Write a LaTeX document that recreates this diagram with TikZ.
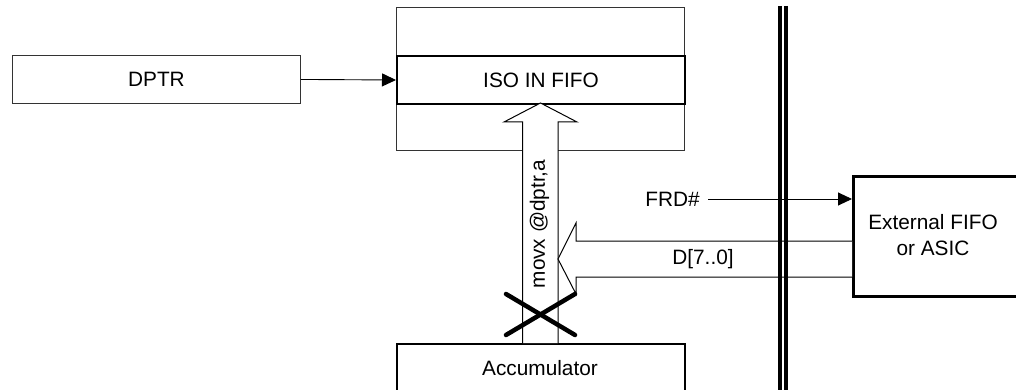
\documentclass[tikz,border=0pt]{standalone}
\usepackage{fontspec}
\setmainfont{Liberation Sans}
\usetikzlibrary{arrows.meta}
\begin{document}
\begin{tikzpicture}[x=1pt,y=-1pt,
  lbl/.style={font=\fontsize{20.8}{24}\selectfont, inner sep=0pt},
  thinbox/.style={draw=black!80, line width=0.9pt},
  conn/.style={draw, line width=0.9pt, -{Triangle[length=14pt,width=13pt]}},
  blockarrow/.style={draw, line width=1pt, fill=white, line join=miter},
  cross/.style={line width=4.5pt, line cap=round},
  bus/.style={line width=3.6pt}]
\clip (0,0) rectangle (1016,390);
\fill[white] (0,0) rectangle (1016,390);
% outer FIFO frame
\draw[thinbox] (396,7) rectangle (684,150);
% DPTR
\node[thinbox, minimum width=288pt, minimum height=48pt, anchor=north west, inner sep=0pt] (dptr) at (12,55) {};
\node[lbl] at (dptr.center) {DPTR};
% ISO IN FIFO
\node[draw, line width=2pt, minimum width=288pt, minimum height=48pt, anchor=north west, inner sep=0pt] (iso) at (396,55) {};
\node[lbl] at (iso.center) {ISO IN FIFO};
\draw[conn] (dptr.east) -- (iso.west);
% Accumulator
\node[draw, line width=1.6pt, minimum width=288pt, minimum height=70pt, anchor=north west, inner sep=0pt] (acc) at (396,343) {};
\node[lbl] at (540,368) {Accumulator};
% up block arrow
\draw[blockarrow] (522.5,343) -- (522.5,122) -- (504,122) -- (540.5,103) -- (577,122) -- (558,122) -- (558,343);
\node[lbl, rotate=90] (movx) at (539.5,224) {movx @dptr,a};
% External FIFO
\node[draw, line width=3pt, minimum width=180pt, minimum height=120pt, anchor=north west, inner sep=0pt] (ext) at (852,175) {};
\node[lbl, align=center] at (933,235) {External FIFO\\[2pt]or ASIC};
% D bus arrow
\draw[blockarrow] (852,241) -- (576,241) -- (576,223) -- (558,259) -- (576,294) -- (576,277) -- (852,277);
\node[lbl] (d) at (703,259) {D[7..0]};
% double line
\draw[bus] (780,6) -- (780,400);
\draw[bus] (786,6) -- (786,400);
% FRD#
\node[lbl, anchor=east] (frd) at (700,199) {FRD\#};
\coordinate (frdstart) at (708,199);
\draw[conn] (frdstart) -- (ext.west |- frdstart);
% cross
\draw[cross] (506,294) -- (575,335);
\draw[cross] (506,335) -- (575,294);
\end{tikzpicture}
\end{document}
